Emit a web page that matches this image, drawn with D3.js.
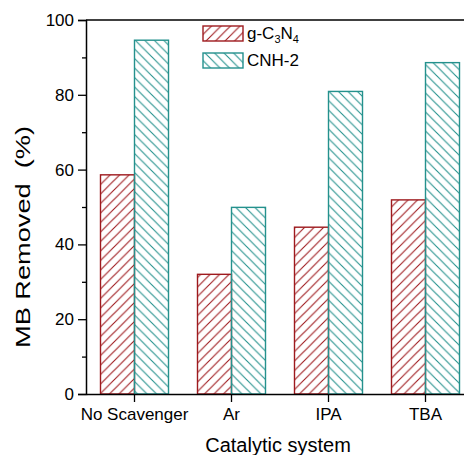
<!DOCTYPE html>
<html>
<head>
<meta charset="utf-8">
<script src="https://cdn.jsdelivr.net/npm/d3@7"></script>
<style>
  body { margin: 0; background: #fff; }
  text { font-family: "Liberation Sans", Arial, sans-serif; fill: #000; }
</style>
</head>
<body>
<svg id="chart"></svg>
<script>
// ---- data ----
const categories = ["No Scavenger", "Ar", "IPA", "TBA"];
const seriesNames = ["g-C3N4", "CNH-2"];
const gc3n4 = [58.6, 32.0, 44.6, 51.9];
const cnh2 = [94.6, 49.9, 80.9, 88.6];
const yTicks = [0, 20, 40, 60, 80, 100];

const width = 464, height = 455;
const m = { left: 86, top: 20, bottom: 394 };

const svg = d3.select("#chart").attr("width", width).attr("height", height);

const red = "#9e1a1e";
const teal = "#24918d";

// hatch patterns
const defs = svg.append("defs");
function hatch(id, color, forward) {
  const s = 9.5;
  const p = defs.append("pattern")
    .attr("id", id)
    .attr("patternUnits", "userSpaceOnUse")
    .attr("width", s).attr("height", s);
  const d = forward
    ? `M0,${s} L${s},0 M-2,2 L2,-2 M${s - 2},${s + 2} L${s + 2},${s - 2}`
    : `M0,0 L${s},${s} M-2,${s - 2} L2,${s + 2} M${s - 2},-2 L${s + 2},2`;
  p.append("path").attr("d", d).attr("stroke", color).attr("stroke-width", 1.1).attr("fill", "none");
}
hatch("hatchRed", red, true);
hatch("hatchTeal", teal, false);

const x = d3.scaleBand().domain(categories).range([m.left, 474]).padding(0);
const y = d3.scaleLinear().domain([0, 100]).range([m.bottom, m.top]);
const barW = 34;

// bars
const g = svg.append("g");
categories.forEach((c, i) => {
  const cx = x(c) + x.bandwidth() / 2;
  g.append("rect")
    .attr("x", cx - barW).attr("y", y(gc3n4[i]))
    .attr("width", barW).attr("height", y(0) - y(gc3n4[i]))
    .attr("fill", "url(#hatchRed)").attr("stroke", red).attr("stroke-width", 1.4);
  g.append("rect")
    .attr("x", cx).attr("y", y(cnh2[i]))
    .attr("width", barW).attr("height", y(0) - y(cnh2[i]))
    .attr("fill", "url(#hatchTeal)").attr("stroke", teal).attr("stroke-width", 1.4);
});

// frame top
svg.append("line")
  .attr("x1", m.left).attr("x2", 474).attr("y1", m.top).attr("y2", m.top)
  .attr("stroke", "#000").attr("stroke-width", 1.5);

// y axis
svg.append("g").attr("transform", `translate(${m.left},0)`)
  .call(d3.axisLeft(y).tickValues(yTicks).tickSize(8).tickPadding(4).tickFormat(d3.format("d")));
svg.append("g").attr("transform", `translate(${m.left},0)`)
  .call(d3.axisLeft(y).tickValues(d3.range(10, 100, 20)).tickSize(4).tickFormat(""))
  .call(s => s.select(".domain").remove());

// x axis
const xAxis = svg.append("g").attr("transform", `translate(0,${m.bottom})`)
  .call(d3.axisBottom(x).tickSize(8).tickPadding(6).tickSizeOuter(0));

svg.selectAll(".domain").attr("stroke", "#000").attr("stroke-width", 1.5);
svg.selectAll(".tick line").attr("stroke", "#000").attr("stroke-width", 1.3);
svg.selectAll(".tick text").style("font-size", "17px").style("font-family", "Liberation Sans, Arial, sans-serif");
xAxis.selectAll(".tick text").attr("y", 14);

// axis titles
svg.append("text")
  .attr("transform", "translate(30,237) rotate(-90)")
  .attr("text-anchor", "middle")
  .attr("textLength", 222)
  .attr("lengthAdjust", "spacingAndGlyphs")
  .style("font-size", "20px")
  .text("MB Removed\u00a0\u00a0(%)");

svg.append("text")
  .attr("x", 278).attr("y", 452)
  .attr("text-anchor", "middle")
  .style("font-size", "20px")
  .text("Catalytic system");

// legend
const leg = svg.append("g");
[["hatchRed", red], ["hatchTeal", teal]].forEach(([pat, col], i) => {
  leg.append("rect")
    .attr("x", 203).attr("y", 26 + i * 27)
    .attr("width", 40).attr("height", 15)
    .attr("fill", `url(#${pat})`).attr("stroke", col).attr("stroke-width", 1.4);
});
const t1 = leg.append("text").attr("x", 247).attr("y", 39).style("font-size", "17px");
t1.append("tspan").text("g-C");
t1.append("tspan").attr("dy", 4).style("font-size", "11px").text("3");
t1.append("tspan").attr("dy", -4).text("N");
t1.append("tspan").attr("dy", 4).style("font-size", "11px").text("4");
leg.append("text").attr("x", 247).attr("y", 66).style("font-size", "17px").text(seriesNames[1]);
</script>
</body>
</html>
